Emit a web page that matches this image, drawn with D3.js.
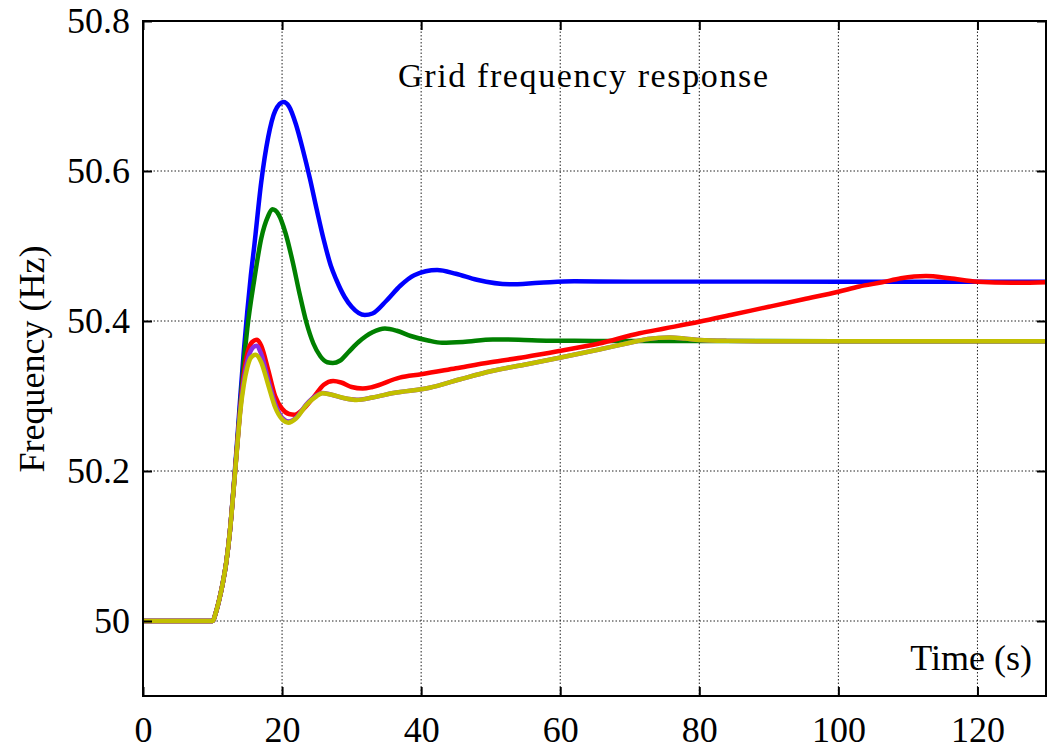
<!DOCTYPE html>
<html>
<head>
<meta charset="utf-8">
<script src="https://cdn.jsdelivr.net/npm/d3@7"></script>
<style>
  body { margin: 0; background: #fff; }
  text { font-family: "Liberation Serif", "Times New Roman", serif; fill: #000; }
</style>
</head>
<body>
<div id="chart"></div>
<script>
var W = 1047, H = 747;

var xTicks = [0, 20, 40, 60, 80, 100, 120];
var yTicks = [50, 50.2, 50.4, 50.6, 50.8];

// [time (s), frequency (Hz)]
var blueResp = [[0,50],[10,50],[10.5,50.012],[11,50.03],[11.5,50.052],[12,50.08],[12.5,50.12],[13,50.175],
  [13.5,50.235],[14,50.3],[14.5,50.36],[15,50.413],[15.5,50.46],[16,50.5],[17,50.585],[18,50.645],[19,50.68],
  [20.2,50.692],[21,50.686],[22,50.662],[23,50.628],[24,50.59],[25,50.548],[26,50.508],[27,50.474],[27.8,50.455],
  [29,50.432],[30,50.419],[31.9,50.408],[33,50.41],[35,50.427],[37,50.447],[39,50.461],[42.3,50.468],[45,50.463],
  [48,50.455],[52.7,50.449],[57,50.451],[62,50.453],[70,50.4525],[130,50.4525]];

var greenResp = [[0,50],[10,50],[10.5,50.012],[11,50.03],[11.5,50.052],[12,50.08],[12.5,50.12],[13,50.173],
  [13.5,50.23],[14,50.29],[14.5,50.345],[15,50.39],[16,50.455],[17,50.51],[18,50.54],[18.6,50.549],[19.5,50.542],
  [20.5,50.517],[21.5,50.48],[22.5,50.437],[23.5,50.398],[24.5,50.37],[25.5,50.353],[26.5,50.345],[27.3,50.344],
  [28.3,50.347],[29.5,50.358],[31,50.372],[33,50.385],[34.8,50.39],[36.5,50.387],[38.5,50.38],[41,50.374],
  [43,50.371],[46,50.372],[50.3,50.3755],[54,50.375],[58.5,50.3737],[65,50.3735],[130,50.373]];

var purpleResp = [[0,50],[10,50],[10.5,50.012],[11,50.03],[11.5,50.052],[12,50.08],[12.5,50.12],[13,50.173],
  [13.5,50.228],[14,50.283],[14.5,50.322],[15,50.347],[15.6,50.362],[16.3,50.367],[17,50.356],[18,50.322],
  [19,50.29],[20,50.271],[21,50.266],[22,50.271],[23.5,50.289],[25,50.301],[25.8,50.304],[27,50.302],[29,50.297],
  [30.7,50.295],[33,50.298],[36,50.304],[41.2,50.311],[45.5,50.322],[50,50.333],[55,50.342],[59.9,50.351],
  [65.6,50.362],[70,50.371],[72.6,50.376],[75.7,50.378],[78,50.3765],[80,50.3747],[84,50.3735],[90,50.373],[130,50.373]];

var yellowResp = [[0,50],[10,50],[10.5,50.012],[11,50.03],[11.5,50.052],[12,50.08],[12.5,50.12],[13,50.172],
  [13.5,50.227],[14,50.28],[14.5,50.315],[15,50.338],[15.5,50.351],[16.2,50.355],[17,50.345],[18,50.315],
  [19,50.285],[20,50.269],[20.9,50.2645],[22,50.27],[23.5,50.288],[25,50.3],[25.8,50.3036],[27,50.302],
  [29,50.297],[30.7,50.2947],[33,50.298],[36,50.304],[41.2,50.311],[45.5,50.322],[50,50.333],[55,50.342],
  [59.9,50.351],[65.6,50.362],[70,50.371],[72.6,50.376],[75.7,50.378],[78,50.3765],[80,50.3747],[84,50.3735],
  [90,50.373],[130,50.373]];

var redResp = [[0,50],[10,50],[10.5,50.012],[11,50.03],[11.5,50.052],[12,50.08],[12.5,50.12],[13,50.173],
  [13.5,50.229],[14,50.285],[14.5,50.33],[15,50.357],[15.7,50.372],[16.4,50.375],[17,50.367],[18,50.335],
  [19,50.3],[20,50.283],[21,50.276],[21.8,50.275],[23,50.282],[24.5,50.298],[26,50.315],[27.35,50.32],
  [28.5,50.318],[30,50.312],[31.6,50.31],[33,50.312],[36.9,50.3245],[40,50.329],[45,50.337],[50,50.345],
  [55,50.352],[59.9,50.36],[65.6,50.37],[71.4,50.3836],[75,50.39],[80,50.399],[85,50.409],[90,50.419],
  [95,50.429],[100,50.439],[103,50.446],[106.3,50.4516],[109,50.457],[112.6,50.46],[116,50.457],
  [120,50.4524],[125,50.451],[130,50.4518]];

var series = [
  {name: "blue", color: "#0000ff", values: blueResp},
  {name: "green", color: "#008000", values: greenResp},
  {name: "red", color: "#ff0000", values: redResp},
  {name: "purple", color: "#8a2be2", values: purpleResp},
  {name: "yellow", color: "#c2bf00", values: yellowResp}
];

var pLeft = 143, pTop = 21, pRight = 1046, pBottom = 696;

var svg = d3.select("#chart").append("svg")
    .attr("width", W)
    .attr("height", H);

var x = d3.scaleLinear().domain([0, 130]).range([pLeft, 1047]);
var y = d3.scaleLinear().domain([49.9, 50.8]).range([pBottom, pTop]);

// grid
var grid = svg.append("g").attr("class", "grid")
    .attr("stroke", "#222").attr("stroke-width", 1).attr("stroke-dasharray", "1.5,2");

grid.selectAll(".gx").data(xTicks.filter(function(d) { return d > 0; })).enter()
  .append("line")
    .attr("x1", function(d) { return x(d); }).attr("x2", function(d) { return x(d); })
    .attr("y1", pTop).attr("y2", pBottom);

grid.selectAll(".gy").data(yTicks.filter(function(d) { return d < 50.8; })).enter()
  .append("line")
    .attr("x1", pLeft).attr("x2", pRight)
    .attr("y1", function(d) { return y(d); }).attr("y2", function(d) { return y(d); });

// lines
var line = d3.line()
    .curve(d3.curveMonotoneX)
    .x(function(d) { return x(d[0]); })
    .y(function(d) { return y(d[1]); });

svg.append("g").attr("class", "lines")
  .selectAll("path")
  .data(series).enter()
  .append("path")
    .attr("d", function(d) { return line(d.values); })
    .attr("fill", "none")
    .attr("stroke", function(d) { return d.color; })
    .attr("stroke-width", 4.5)
    .attr("stroke-linejoin", "round");

// axes, ticks pointing inward
svg.append("g")
    .attr("transform", "translate(0," + pBottom + ")")
    .call(d3.axisBottom(x).tickValues(xTicks).tickSizeInner(-9).tickSizeOuter(0).tickPadding(20)
      .tickFormat(d3.format("d")));

svg.append("g")
    .attr("transform", "translate(" + pLeft + ",0)")
    .call(d3.axisLeft(y).tickValues(yTicks).tickSizeInner(-9).tickSizeOuter(0).tickPadding(13)
      .tickFormat(function(d) { return d === 50 ? "50" : d3.format(".1f")(d); }));

svg.append("g")
    .attr("transform", "translate(0," + pTop + ")")
    .call(d3.axisTop(x).tickValues(xTicks).tickSizeInner(-9).tickSizeOuter(0).tickFormat(""));

svg.append("g")
    .attr("transform", "translate(" + pRight + ",0)")
    .call(d3.axisRight(y).tickValues(yTicks).tickSizeInner(-9).tickSizeOuter(0).tickFormat(""));

svg.selectAll(".domain").remove();
svg.selectAll(".tick line").attr("stroke", "#000").attr("stroke-width", 2);
svg.selectAll(".tick text")
    .style("font-family", "'Liberation Serif', 'Times New Roman', serif")
    .style("font-size", "36px")
    .attr("fill", "#000");

// frame
svg.append("rect")
    .attr("x", pLeft).attr("y", pTop)
    .attr("width", pRight - pLeft).attr("height", pBottom - pTop)
    .attr("fill", "none").attr("stroke", "#000").attr("stroke-width", 2);

// labels
svg.append("text")
    .attr("x", 583).attr("y", 87)
    .attr("text-anchor", "middle")
    .attr("textLength", 370).attr("lengthAdjust", "spacing")
    .style("font-size", "34px")
    .text("Grid frequency response");

svg.append("text")
    .attr("x", 1032).attr("y", 670)
    .attr("text-anchor", "end")
    .style("font-size", "36px")
    .text("Time (s)");

svg.append("text")
    .attr("transform", "translate(44,359) rotate(-90)")
    .attr("text-anchor", "middle")
    .style("font-size", "36px")
    .text("Frequency (Hz)");
</script>
</body>
</html>
